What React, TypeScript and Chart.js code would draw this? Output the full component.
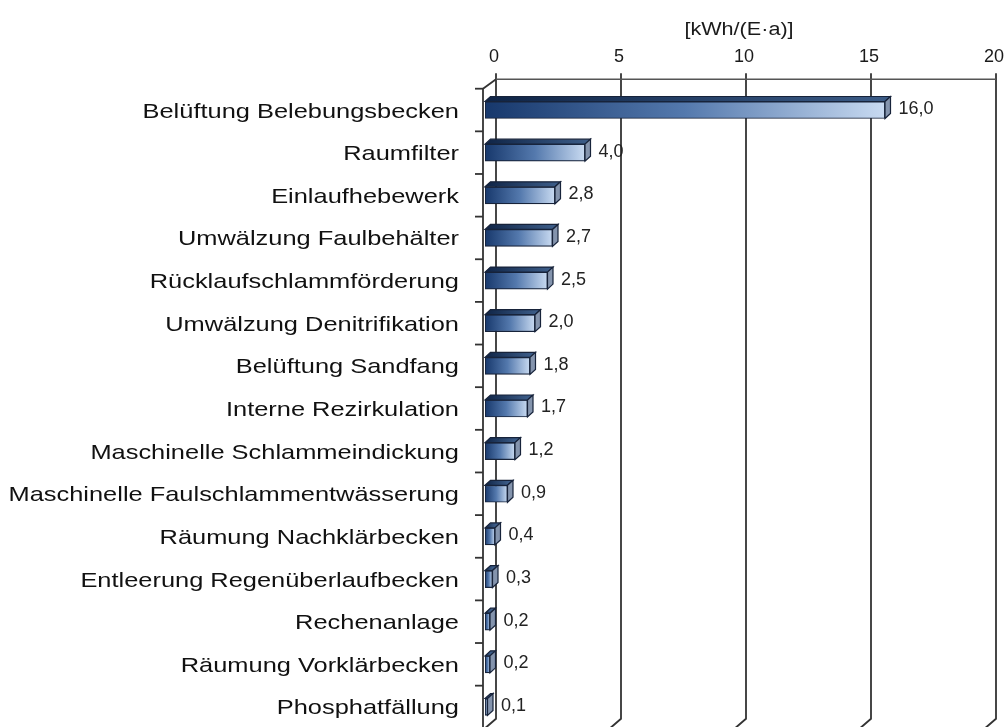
import React, { useEffect, useRef } from 'react';
import { Chart, registerables } from 'chart.js';

Chart.register(...registerables);

const categories = [
  'Belüftung Belebungsbecken',
  'Raumfilter',
  'Einlaufhebewerk',
  'Umwälzung Faulbehälter',
  'Rücklaufschlammförderung',
  'Umwälzung Denitrifikation',
  'Belüftung Sandfang',
  'Interne Rezirkulation',
  'Maschinelle Schlammeindickung',
  'Maschinelle Faulschlammentwässerung',
  'Räumung Nachklärbecken',
  'Entleerung Regenüberlaufbecken',
  'Rechenanlage',
  'Räumung Vorklärbecken',
  'Phosphatfällung',
];

const values = [16.0, 4.0, 2.8, 2.7, 2.5, 2.0, 1.8, 1.7, 1.2, 0.9, 0.4, 0.3, 0.2, 0.2, 0.1];

const valueLabels = values.map((v) => v.toFixed(1).replace('.', ','));

const xTickValues = [0, 5, 10, 15, 20];
const xTickLabels = ['0', '5', '10', '15', '20'];

const unitLabel = '[kWh/(E·a)]';

const FONT = '"Liberation Sans", Arial, Helvetica, sans-serif';

export default function App() {
  const ref = useRef<HTMLCanvasElement>(null);

  useEffect(() => {
    document.body.style.margin = '0';
    const canvas = ref.current;
    if (!canvas) return;

    const BAR = { dx: 5.5, dy: 5 };
    const WALL = { dx: 11, dy: 9.5 };
    const LINE = '#333333';

    const plugin = {
      id: 'pseudo3d',
      beforeDatasetsDraw(chart: any) {
        const { ctx, chartArea } = chart;
        const xs = chart.scales.x;
        const ys = chart.scales.y;
        const backTop = chartArea.top - WALL.dy;
        const backBottom = chartArea.bottom - WALL.dy;
        const px0 = xs.getPixelForValue(0);
        const pxMax = xs.getPixelForValue(xTickValues[xTickValues.length - 1]);
        ctx.save();
        ctx.strokeStyle = LINE;
        ctx.lineWidth = 1.8;
        xTickValues.forEach((v) => {
          const px = xs.getPixelForValue(v);
          const bx = px + WALL.dx;
          ctx.beginPath();
          ctx.moveTo(bx, backTop - 6);
          ctx.lineTo(bx, backBottom);
          ctx.lineTo(px, chartArea.bottom);
          ctx.stroke();
        });
        ctx.lineWidth = 1.5;
        ctx.strokeStyle = '#555';
        ctx.beginPath();
        ctx.moveTo(px0 + WALL.dx, backTop);
        ctx.lineTo(pxMax + WALL.dx, backTop);
        ctx.stroke();
        const fx = px0 - 2;
        ctx.strokeStyle = LINE;
        ctx.lineWidth = 1.8;
        ctx.beginPath();
        ctx.moveTo(px0 + WALL.dx, backTop);
        ctx.lineTo(fx, chartArea.top);
        ctx.lineTo(fx, chartArea.bottom + 20);
        ctx.stroke();
        for (let i = 0; i <= categories.length; i++) {
          const yb = ys.getPixelForValue(i - 0.5);
          ctx.beginPath();
          ctx.moveTo(fx - 8, yb);
          ctx.lineTo(fx, yb);
          ctx.stroke();
        }
        ctx.fillStyle = '#1a1a1a';
        ctx.font = `18px ${FONT}`;
        ctx.textAlign = 'center';
        ctx.textBaseline = 'middle';
        xTickValues.forEach((v, i) => {
          const bx = xs.getPixelForValue(v) + WALL.dx - 2;
          ctx.fillText(xTickLabels[i], bx, 57);
        });
        ctx.save();
        ctx.translate((px0 + pxMax) / 2 + WALL.dx - 7, 35);
        ctx.scale(1.2, 1);
        ctx.textBaseline = 'alphabetic';
        ctx.font = `18px ${FONT}`;
        ctx.fillText(unitLabel, 0, 0);
        ctx.restore();
        ctx.font = `21px ${FONT}`;
        ctx.textAlign = 'right';
        ctx.textBaseline = 'alphabetic';
        ctx.fillStyle = '#111';
        categories.forEach((c, i) => {
          const yc = ys.getPixelForValue(i);
          ctx.save();
          ctx.translate(fx - 24, yc + 7.5);
          ctx.scale(1.21, 1);
          ctx.fillText(c, 0, 0);
          ctx.restore();
        });
        ctx.restore();
      },
      afterDatasetsDraw(chart: any) {
        const { ctx } = chart;
        const meta = chart.getDatasetMeta(0);
        ctx.save();
        ctx.lineWidth = 1.2;
        ctx.strokeStyle = '#17233a';
        meta.data.forEach((el: any, i: number) => {
          const p = el.getProps(['x', 'y', 'base', 'height'], true);
          if (![p.x, p.y, p.base, p.height].every((n) => Number.isFinite(n))) return;
          const top = p.y - p.height / 2;
          const bottom = p.y + p.height / 2;
          const g = ctx.createLinearGradient(p.base, 0, Math.max(p.x, p.base + 1), 0);
          g.addColorStop(0, '#0f2446');
          g.addColorStop(1, '#3b5b86');
          ctx.beginPath();
          ctx.moveTo(p.base, top);
          ctx.lineTo(p.base + BAR.dx, top - BAR.dy);
          ctx.lineTo(p.x + BAR.dx, top - BAR.dy);
          ctx.lineTo(p.x, top);
          ctx.closePath();
          ctx.fillStyle = g;
          ctx.fill();
          ctx.stroke();
          ctx.beginPath();
          ctx.moveTo(p.x, top);
          ctx.lineTo(p.x + BAR.dx, top - BAR.dy);
          ctx.lineTo(p.x + BAR.dx, bottom - BAR.dy);
          ctx.lineTo(p.x, bottom);
          ctx.closePath();
          ctx.fillStyle = '#8494ad';
          ctx.fill();
          ctx.stroke();
          ctx.fillStyle = '#222';
          ctx.font = `18px ${FONT}`;
          ctx.textAlign = 'left';
          ctx.textBaseline = 'middle';
          ctx.fillText(valueLabels[i], p.x + BAR.dx + 8, p.y - 1);
        });
        ctx.restore();
      },
    };

    const chart = new Chart(canvas, {
      type: 'bar',
      data: {
        labels: categories,
        datasets: [
          {
            data: values,
            backgroundColor: (c: any) => {
              const fallback = '#4a72a6';
              const xs = c.chart.scales && c.chart.scales.x;
              if (!xs || typeof c.raw !== 'number') return fallback;
              const x0 = xs.getPixelForValue(0);
              const x1 = xs.getPixelForValue(c.raw);
              if (!Number.isFinite(x0) || !Number.isFinite(x1)) return fallback;
              const g = c.chart.ctx.createLinearGradient(x0, 0, Math.max(x1, x0 + 1), 0);
              g.addColorStop(0, '#17386c');
              g.addColorStop(0.5, '#5479ad');
              g.addColorStop(1, '#c8daf1');
              return g;
            },
            borderColor: '#17233a',
            borderWidth: 1.2,
            borderSkipped: false,
            barThickness: 17,
          },
        ],
      },
      options: {
        indexAxis: 'y',
        responsive: false,
        animation: false,
        devicePixelRatio: 1,
        layout: { padding: { left: 485, right: 22, top: 88.7, bottom: 11.7 } },
        plugins: { legend: { display: false }, tooltip: { enabled: false } },
        scales: {
          x: { position: 'top', min: 0, max: 20, display: false },
          y: { display: false },
        },
      },
      plugins: [plugin],
    } as any);

    return () => chart.destroy();
  }, []);

  return (
    <div
      style={{
        position: 'fixed',
        left: 0,
        top: 0,
        width: 1007,
        height: 727,
        overflow: 'hidden',
        background: '#fff',
      }}
    >
      <canvas ref={ref} width={1007} height={740} style={{ display: 'block' }} />
    </div>
  );
}
